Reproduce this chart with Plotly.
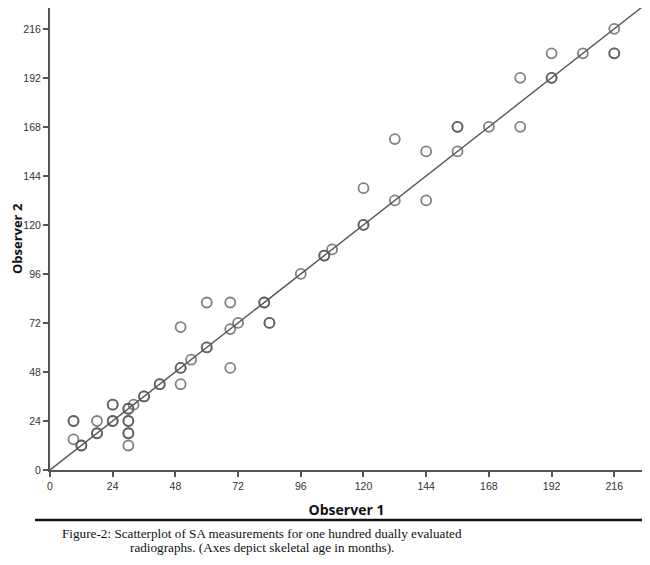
import plotly.graph_objects as go

# Observer 1 / Observer 2 skeletal age (months); repeated pairs appear darker
observer1 = [216, 192, 204, 216, 216, 180, 192, 192, 156, 156, 168, 180, 132, 144, 156,
             120, 132, 144, 120, 120, 108, 105, 105, 96, 82, 82, 84, 84, 72, 69, 60, 69,
             60, 60, 54, 50, 50, 50, 69, 50, 42, 42, 36, 36, 32, 30, 30, 24, 24, 24, 24,
             18, 18, 18, 9, 9, 9, 12, 12, 30, 30, 30, 30, 30]
observer2 = [216, 204, 204, 204, 204, 192, 192, 192, 168, 168, 168, 168, 162, 156, 156,
             138, 132, 132, 120, 120, 108, 105, 105, 96, 82, 82, 72, 72, 72, 69, 82, 82,
             60, 60, 54, 50, 50, 70, 50, 42, 42, 42, 36, 36, 32, 30, 30, 32, 32, 24, 24,
             24, 18, 18, 24, 24, 15, 12, 12, 24, 24, 18, 18, 12]

ref_line = [0, 228]

x_ticks = [0, 24, 48, 72, 96, 120, 144, 168, 192, 216]
y_ticks = [0, 24, 48, 72, 96, 120, 144, 168, 192, 216]

caption_1 = "Figure-2: Scatterplot of SA measurements for one hundred dually evaluated"
caption_2 = "radiographs. (Axes depict skeletal age in months)."

fig = go.Figure()
fig.add_trace(go.Scatter(x=ref_line, y=ref_line, mode="lines",
                         line=dict(color="#555555", width=1.4),
                         hoverinfo="skip", showlegend=False))
fig.add_trace(go.Scatter(x=observer1, y=observer2, mode="markers",
                         marker=dict(symbol="circle-open", size=10,
                                     color="rgba(85,85,85,0.75)",
                                     line=dict(width=1.8, color="rgba(85,85,85,0.75)")),
                         showlegend=False))

axis_common = dict(showline=True, linecolor="#555555", linewidth=2, mirror=True,
                   showgrid=False, zeroline=False, ticks="outside", ticklen=5,
                   tickwidth=1.5, tickcolor="#555555", automargin=False,
                   tickfont=dict(family="Liberation Sans", size=10.5, color="#333333"))

fig.update_layout(
    width=642, height=557,
    margin=dict(l=42, r=7, t=0, b=95),
    plot_bgcolor="white", paper_bgcolor="white",
    xaxis=dict(range=[0, 227], tickvals=x_ticks, ticktext=[str(v) for v in x_ticks],
               title=dict(text="<b>Observer 1</b>", standoff=15,
                          font=dict(family="Open Sans", size=14, color="#111111")),
               **axis_common),
    yaxis=dict(range=[0, 226.2], tickvals=y_ticks, ticktext=[str(v) for v in y_ticks],
               ticklabelstandoff=0, **axis_common),
    shapes=[dict(type="line", xref="paper", yref="paper",
                 x0=-0.0253, x1=1.02, y0=-0.1082, y1=-0.1082,
                 line=dict(color="#111111", width=2.5))],
    annotations=[
        dict(text="<b>Observer 2</b>", xref="paper", yref="paper", x=-0.0555, y=0.5,
             textangle=-90, xanchor="center", yanchor="middle", showarrow=False,
             font=dict(family="Open Sans", size=13, color="#111111")),
        dict(text=caption_1, xref="paper", yref="paper", x=0.358, y=-0.1364,
             xanchor="center", yanchor="middle", showarrow=False,
             font=dict(family="Liberation Serif", size=13.2, color="#111111")),
        dict(text=caption_2, xref="paper", yref="paper", x=0.358, y=-0.1688,
             xanchor="center", yanchor="middle", showarrow=False,
             font=dict(family="Liberation Serif", size=13.2, color="#111111")),
    ],
)

fig.write_html("out.html")
